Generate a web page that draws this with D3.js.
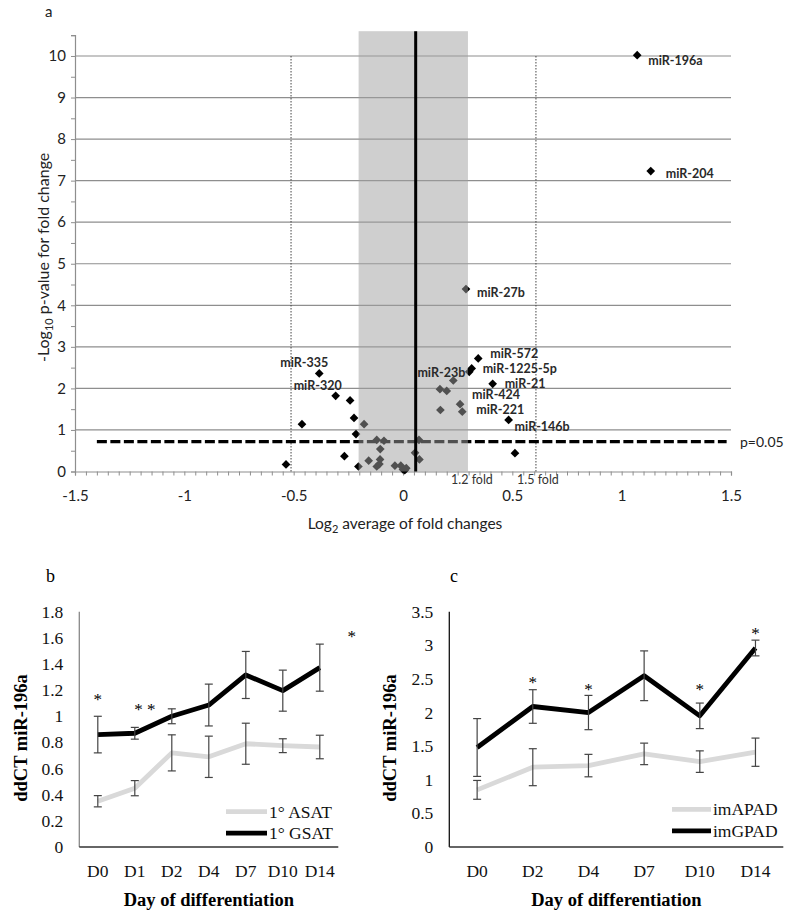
<!DOCTYPE html>
<html><head><meta charset="utf-8">
<script src="https://cdn.jsdelivr.net/npm/d3@7"></script>
<style>body{margin:0;background:#fff}svg{display:block}</style>
</head><body><svg id="chart" width="794" height="914"></svg>
<script>
// ---------- DATA: panel a (volcano) ----------
const volX = [1.071,1.133,0.288,0.344,0.314,0.303,0.410,0.483,0.512,-0.383,-0.308,-0.242,-0.462,-0.224,-0.215,-0.268,-0.535,-0.204,-0.178,-0.120,-0.087,-0.104,-0.105,-0.157,-0.120,-0.037,-0.010,0.000,0.015,0.008,0.055,0.073,0.075,0.230,0.169,0.200,0.261,0.271,0.171,-0.108];
const volY = [10.02,7.23,4.39,2.72,2.48,2.40,2.11,1.24,0.44,2.36,1.82,1.71,1.14,1.29,0.90,0.37,0.17,0.12,1.14,0.76,0.74,0.54,0.29,0.26,0.12,0.14,0.14,0.05,0.08,0.03,0.45,0.76,0.29,2.19,1.98,1.94,1.62,1.44,1.48,0.18];
const labelNames = ["miR-196a","miR-204","miR-27b","miR-572","miR-1225-5p","miR-23b","miR-21","miR-424","miR-221","miR-146b","miR-335","miR-320"];
const labelPoint = [0,1,2,3,4,5,6,36,37,7,9,10];
const volXTicks = [-1.5,-1,-0.5,0,0.5,1,1.5];
const volYTicks = [0,1,2,3,4,5,6,7,8,9,10];
const foldBand = [-0.203, 0.297];   // shaded 1.2 fold band
const foldCenter = 0.058;
const fold15 = [-0.512, 0.608];
const pLine = 0.72;
const pLineRange = [-1.4, 1.48];

// ---------- DATA: panel b ----------
const daysB = ["D0","D1","D2","D4","D7","D10","D14"];
const asat = [0.35,0.45,0.72,0.69,0.79,0.775,0.765];
const asatErr = [0.043,0.058,0.138,0.158,0.157,0.053,0.09];
const gsat = [0.86,0.87,1.0,1.086,1.316,1.196,1.372];
const gsatErr = [0.14,0.045,0.057,0.16,0.18,0.157,0.18];
const yTicksB = [0,0.2,0.4,0.6,0.8,1,1.2,1.4,1.6,1.8];
const starsB = [{day:"D0",y:1.163,t:"*"},{day:"D1",y:1.086,t:"* *"},{day:"D14",y:1.647,t:"*"}];

// ---------- DATA: panel c ----------
const daysC = ["D0","D2","D4","D7","D10","D14"];
const apad = [0.85,1.187,1.211,1.385,1.27,1.41];
const apadErr = [0.14,0.275,0.167,0.16,0.16,0.21];
const gpad = [1.48,2.09,2.0,2.547,1.951,2.96];
const gpadErr = [0.43,0.25,0.255,0.37,0.19,0.117];
const yTicksC = [0,0.5,1,1.5,2,2.5,3,3.5];
const starsC = [{day:"D2",y:2.51},{day:"D4",y:2.41},{day:"D10",y:2.41},{day:"D14",y:3.24}];

// ---------- LAYOUT ----------
const svg = d3.select("#chart");
svg.append("rect").attr("width",794).attr("height",914).attr("fill","#fff");
const sans = "Lato, 'Open Sans', sans-serif";
const serif = "'Liberation Serif', 'Times New Roman', serif";

// ===== Panel a =====
const xa = d3.scaleLinear().domain([-1.5,1.5]).range([75,731]);
const ya = d3.scaleLinear().domain([0,10.5]).range([471.5,35.2]);
const ga = svg.append("g");
const gridCol = "#8e8e8e";

ga.append("text").attr("x",45).attr("y",17).attr("font-family",sans).attr("font-size",15).attr("fill","#222").text("a");

// gridlines
ga.selectAll("line.grid").data(volYTicks.filter(d=>d>0)).enter().append("line")
  .attr("x1",xa(-1.5)).attr("x2",xa(1.5)).attr("y1",d=>ya(d)).attr("y2",d=>ya(d))
  .attr("stroke",gridCol).attr("stroke-width",1.2);

// y axis
const yAxA = d3.axisLeft(ya).tickValues(d3.range(0,10.51,0.5)).tickSize(4).tickFormat(d=>Number.isInteger(d)?d:"");
const gya = ga.append("g").attr("transform",`translate(${xa(-1.5)},0)`).call(yAxA);
gya.select(".domain").attr("stroke",gridCol).attr("stroke-width",1.2);
gya.selectAll(".tick line").attr("stroke",gridCol);
gya.selectAll("text").attr("font-family",sans).attr("font-size",15).attr("fill","#222").attr("dx",-2);

// x axis
const xAxA = d3.axisBottom(xa).tickValues(d3.range(-1.5,1.501,0.05)).tickSize(4).tickFormat(d=>{
  const r=Math.round(d*100)/100; return volXTicks.includes(r)? String(r):"";});
const gxa = ga.append("g").attr("transform",`translate(0,${ya(0)})`).call(xAxA);
gxa.select(".domain").attr("stroke",gridCol).attr("stroke-width",1.2);
gxa.selectAll(".tick line").attr("stroke",gridCol);
gxa.selectAll("text").attr("font-family",sans).attr("font-size",15).attr("fill","#222").attr("dy","1.5em");

// dotted 1.5 fold lines
ga.selectAll("line.f15").data(fold15).enter().append("line")
  .attr("x1",d=>xa(d)).attr("x2",d=>xa(d)).attr("y1",ya(0)).attr("y2",ya(10))
  .attr("stroke","#444").attr("stroke-width",1).attr("stroke-dasharray","1.5,1.5");

// p=0.05 dashed line
ga.append("line").attr("x1",xa(pLineRange[0])).attr("x2",xa(pLineRange[1]))
  .attr("y1",ya(pLine)).attr("y2",ya(pLine)).attr("stroke","#000").attr("stroke-width",3.3)
  .attr("stroke-dasharray","10,3.5");
ga.append("text").attr("x",xa(1.5)+9).attr("y",ya(pLine)+5).attr("font-family",sans)
  .attr("font-size",14).attr("fill","#222").text("p=0.05");

// points
const pts = volX.map((x,i)=>({x,y:volY[i]}));
const diamond = d3.symbol().type(d3.symbolSquare).size(38);
ga.selectAll("path.pt").data(pts).enter().append("path")
  .attr("d",diamond).attr("fill","#000")
  .attr("transform",d=>`translate(${xa(d.x)},${ya(d.y)}) rotate(45)`);

// shaded band over points
ga.append("rect").attr("x",xa(foldBand[0])).attr("width",xa(foldBand[1])-xa(foldBand[0]))
  .attr("y",ya(10.5)-4).attr("height",ya(0)-ya(10.5)+4).attr("fill","#a0a0a0").attr("opacity",0.5);

// center line
ga.append("line").attr("x1",xa(foldCenter)).attr("x2",xa(foldCenter)).attr("y1",ya(0)).attr("y2",ya(10.5)-4)
  .attr("stroke","#000").attr("stroke-width",3);

// fold labels
ga.append("text").attr("x",xa(foldBand[1])+4).attr("y",ya(0)+12).attr("text-anchor","middle")
  .attr("font-family",sans).attr("font-size",12.5).attr("fill","#333").text("1.2 fold");
ga.append("text").attr("x",xa(fold15[1])+2).attr("y",ya(0)+12).attr("text-anchor","middle")
  .attr("font-family",sans).attr("font-size",12.5).attr("fill","#333").text("1.5 fold");

// miR labels (offsets relative to their points)
const labelDx = [11,15,11,12,11,-4,12,12,14,6,-15,-18];
const labelDy = [6,3,4,-4,1,1,0,-9,-2,7,-10,-10];
const labelAnchor = ["start","start","start","start","start","end","start","start","start","start","middle","middle"];
labelNames.forEach((n,i)=>{
  const p = pts[labelPoint[i]];
  ga.append("text").attr("x",xa(p.x)+labelDx[i]).attr("y",ya(p.y)+labelDy[i]+4)
    .attr("text-anchor",labelAnchor[i]).attr("font-family",sans).attr("font-weight","bold")
    .attr("font-size",12.5).attr("fill","#2a2a2a").text(n);
});

// axis titles
const yt = ga.append("text").attr("transform",`translate(49,${(ya(0)+ya(10.5))/2+4}) rotate(-90)`)
  .attr("text-anchor","middle").attr("font-family",sans).attr("font-size",16).attr("fill","#222");
yt.append("tspan").text("-Log");
yt.append("tspan").attr("font-size",11).attr("dy",4).text("10");
yt.append("tspan").attr("dy",-4).text(" p-value for fold change");
const xt = ga.append("text").attr("x",405).attr("y",529).attr("text-anchor","middle")
  .attr("font-family",sans).attr("font-size",15.5).attr("fill","#222");
xt.append("tspan").text("Log");
xt.append("tspan").attr("font-size",11).attr("dy",4).text("2");
xt.append("tspan").attr("dy",-4).text(" average of fold changes");

// ===== line panels =====
function linePanel(o){
  const g = svg.append("g");
  const x = d3.scaleBand().domain(o.days).range([o.x0,o.x1]);
  const y = d3.scaleLinear().domain([0,o.ymax]).range([847,611.7]);
  const cx = d=>x(d)+x.bandwidth()/2;
  g.append("text").attr("x",o.letterX).attr("y",582).attr("font-family",serif).attr("font-size",18).text(o.letter);
  // axes
  g.append("line").attr("x1",o.x0).attr("x2",o.x0).attr("y1",y(0)).attr("y2",y(o.ymax)).attr("stroke",o.yAxisCol).attr("stroke-width",1.3);
  g.append("line").attr("x1",o.x0).attr("x2",o.x1).attr("y1",y(0)).attr("y2",y(0)).attr("stroke","#333").attr("stroke-width",1.3);
  g.selectAll("text.yt").data(o.yTicks).enter().append("text")
    .attr("x",o.x0-16).attr("y",d=>y(d)+6).attr("text-anchor","end")
    .attr("font-family",serif).attr("font-size",17.5).attr("fill","#111").text(d=>d);
  g.selectAll("text.xt").data(o.days).enter().append("text")
    .attr("x",d=>cx(d)).attr("y",877).attr("text-anchor","middle")
    .attr("font-family",serif).attr("font-size",17.5).attr("fill","#111").text(d=>d);
  g.append("text").attr("x",(o.x0+o.x1)/2).attr("y",906).attr("text-anchor","middle")
    .attr("font-family",serif).attr("font-weight","bold").attr("font-size",18.5).text("Day of differentiation");
  g.append("text").attr("transform",`translate(${o.titleX},738) rotate(-90)`).attr("text-anchor","middle")
    .attr("font-family",serif).attr("font-weight","bold").attr("font-size",18.5).text("ddCT miR-196a");
  // series
  const line = d3.line().x((d,i)=>cx(o.days[i])).y(d=>y(d));
  o.series.forEach(s=>{
    g.append("path").attr("d",line(s.v)).attr("fill","none").attr("stroke",s.col)
      .attr("stroke-width",4.8).attr("stroke-linejoin","round");
  });
  o.series.forEach(s=>{
    s.v.forEach((v,i)=>{
      const xx = cx(o.days[i]), t=y(v+s.e[i]), b=y(v-s.e[i]);
      g.append("line").attr("x1",xx).attr("x2",xx).attr("y1",t).attr("y2",b).attr("stroke","#444").attr("stroke-width",1.2);
      [t,b].forEach(yy=>g.append("line").attr("x1",xx-4).attr("x2",xx+4).attr("y1",yy).attr("y2",yy).attr("stroke","#444").attr("stroke-width",1.2));
    });
  });
  // stars
  o.stars.forEach(s=>{
    g.append("text").attr("x",cx(s.day)+(s.dx||0)).attr("y",y(s.y)+10).attr("text-anchor","middle")
      .attr("font-family",serif).attr("font-size",17).text(s.t||"*");
  });
  // legend
  o.series.forEach((s,i)=>{
    const ly = o.legY + i*21.5;
    g.append("line").attr("x1",o.legX).attr("x2",o.legX+o.legLen).attr("y1",ly).attr("y2",ly)
      .attr("stroke",s.col).attr("stroke-width",4.8);
    g.append("text").attr("x",o.legX+o.legLen+2).attr("y",ly+6).attr("font-family",serif)
      .attr("font-size",17.5).attr("fill","#111").text(s.name);
  });
}

starsB[1].dx = 10; starsB[2].dx = 32;
linePanel({days:daysB,x0:79.3,x1:338.3,ymax:1.8,yTicks:yTicksB,letter:"b",letterX:46,titleX:27,yAxisCol:"#888",
  series:[{name:"1° ASAT",v:asat,e:asatErr,col:"#d9d9d9"},{name:"1° GSAT",v:gsat,e:gsatErr,col:"#000"}],
  stars:starsB,legX:226,legLen:41,legY:811.7});
linePanel({days:daysC,x0:449.3,x1:783.3,ymax:3.5,yTicks:yTicksC,letter:"c",letterX:450,titleX:396,yAxisCol:"#111",
  series:[{name:"imAPAD",v:apad,e:apadErr,col:"#d9d9d9"},{name:"imGPAD",v:gpad,e:gpadErr,col:"#000"}],
  stars:starsC,legX:672,legLen:39,legY:809.3});
</script></body></html>
